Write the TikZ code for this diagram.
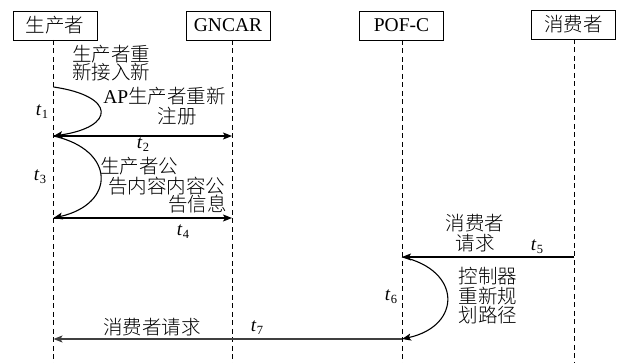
\documentclass[tikz,border=0pt]{standalone}
\usepackage{fontspec}
\setmainfont{Liberation Serif}
\newfontfamily\cjk{Noto Sans CJK SC}[UprightFont={* Light}]
\usetikzlibrary{arrows.meta}
% time labels: italic t with a small lowered index
\newcommand\tlab[1]{\textit{t}\kern0.5pt\raisebox{-0.35ex}{\fontsize{12.5}{12.5}\selectfont #1}}
\begin{document}
\begin{tikzpicture}[x=1pt,y=-1pt,
  actor/.style={draw, line width=0.9pt, minimum width=84pt, minimum height=29pt,
    inner sep=0pt, font=\fontsize{19.5}{20}\selectfont},
  lifeline/.style={line width=1pt, dash pattern=on 5pt off 3.5pt},
  msg/.style={line width=1.1pt, -{Stealth[length=9pt,width=7pt,inset=2pt]}},
  lbl/.style={inner sep=0pt, align=center, font=\fontsize{19.5}{19.5}\selectfont\cjk},
  oneline/.style={text height=13pt, text depth=1.5pt},
  tl/.style={inner sep=0pt, font=\fontsize{19}{19}\selectfont}]
\useasboundingbox (0,0) rectangle (622,363);

% participants
\node[actor] (prod) at (55,25.5) {\cjk 生产者};
\node[actor] (gncar) at (228,25.5) {GNCAR};
\node[actor] (pofc) at (401.5,25.5) {POF-C};
\node[actor] (cons) at (573.5,24.5) {\cjk 消费者};

% lifelines
\coordinate (prodT) at (53.5,40);  \coordinate (prodB) at (53.5,363);
\coordinate (gncT) at (232,40);    \coordinate (gncB) at (232,363);
\coordinate (pofT) at (402,40);    \coordinate (pofB) at (402,363);
\coordinate (conT) at (574,39);    \coordinate (conB) at (574,363);
\draw[lifeline] (prodT) -- (prodB);
\draw[lifeline] (gncT) -- (gncB);
\draw[lifeline] (pofT) -- (pofB);
\draw[lifeline] (conT) -- (conB);

% event points on the lifelines
\coordinate (p1) at (53.5,87);
\coordinate (p2) at (53.5,136);
\coordinate (g2) at (232,136);
\coordinate (p3) at (53.5,218);
\coordinate (g3) at (232,218);
\coordinate (c5) at (574,257);
\coordinate (f5) at (402,257);
\coordinate (f6) at (402,339);
\coordinate (p7) at (53.5,339);

% producer re-attaches and re-registers
\draw[msg] (p1) .. controls (116,96) and (116,127) .. (p2);
\draw[msg] (p2) -- (g2);
% producer announces content
\draw[msg] (p2) .. controls (116,150) and (116,204) .. (p3);
\draw[msg] (p3) -- (g3);
% consumer request and re-routing
\draw[msg] (c5) -- (f5);
\draw[msg] (f5) .. controls (462,270) and (462,326) .. (f6);
\draw[msg, draw=black!75] (f6) -- (p7);

% message texts
\node[lbl, align=left] at (111,63.5) {生产者重\\[-1.5pt]新接入新};
\node[lbl, oneline] at (164.5,97.5) {{\rmfamily AP}生产者重新};
\node[lbl, oneline] at (177,118) {注册};
\node[lbl] at (139,166) {生产者公};
\node[lbl] at (166.5,186) {告内容内容公};
\node[lbl] at (197.5,204) {告信息};
\node[lbl] at (475,233) {消费者\\[0.5pt]请求};
\node[lbl] at (488,296) {控制器\\重新规\\划路径};
\node[lbl] at (152,327) {消费者请求};

% time labels
\node[tl] at (42,112) {\tlab{1}};
\node[tl] at (143,145) {\tlab{2}};
\node[tl] at (40,177) {\tlab{3}};
\node[tl] at (183,232) {\tlab{4}};
\node[tl] at (537,247) {\tlab{5}};
\node[tl] at (391,297) {\tlab{6}};
\node[tl] at (257,328) {\tlab{7}};
\end{tikzpicture}
\end{document}
